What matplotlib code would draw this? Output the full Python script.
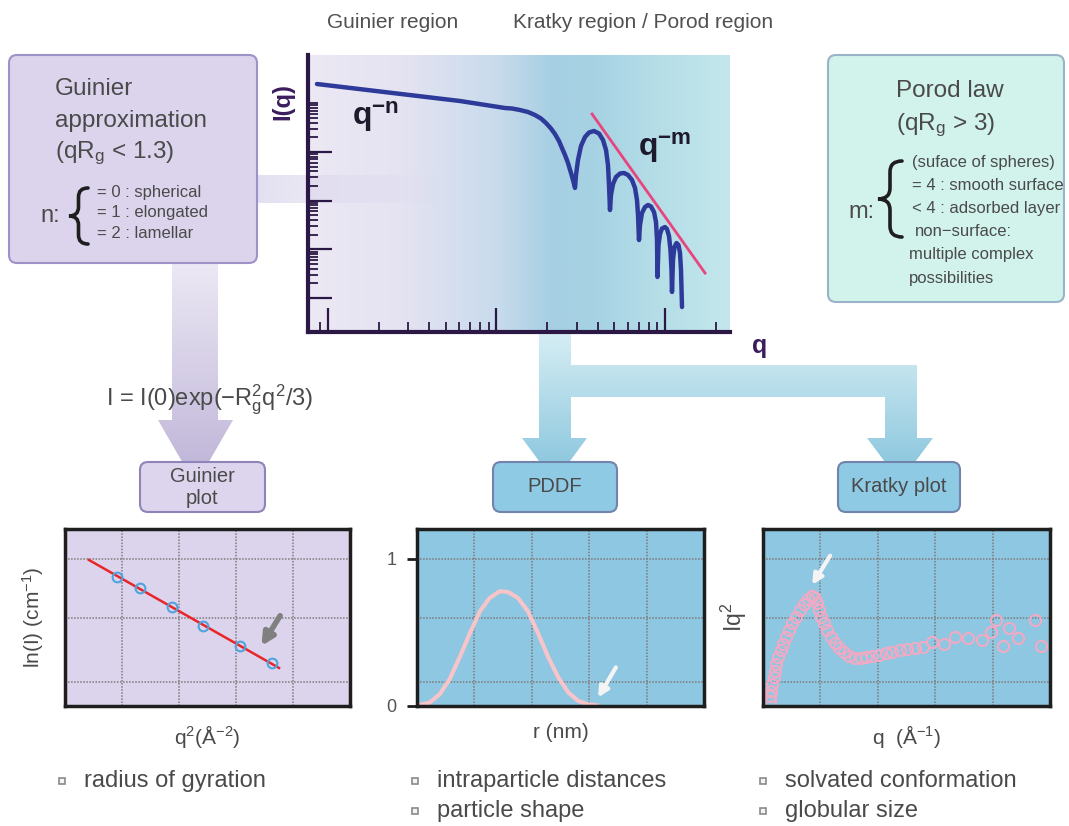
import numpy as np
import matplotlib
matplotlib.use("Agg")
import matplotlib.pyplot as plt
from matplotlib.patches import FancyBboxPatch, Polygon, PathPatch
from matplotlib.path import Path
from matplotlib.colors import LinearSegmentedColormap, to_rgb

plt.rcParams['font.family'] = ['Liberation Sans', 'DejaVu Sans']
plt.rcParams['mathtext.fontset'] = 'custom'
plt.rcParams['mathtext.rm'] = 'Liberation Sans'
plt.rcParams['mathtext.it'] = 'Liberation Sans:italic'
plt.rcParams['mathtext.bf'] = 'Liberation Sans:bold'

W, H = 1069, 826

# scattering curve I(q)
q_curve = [0.0086, 0.0607, 0.1123, 0.1236, 0.1379, 0.1538, 0.1692, 0.1837, 0.1967, 0.2106,
           0.2224, 0.2349, 0.2447, 0.2550, 0.2657, 0.2768, 0.2845, 0.2924,
           0.2964, 0.3046, 0.3173, 0.3351, 0.3540, 0.379, 0.4057, 0.4286, 0.4467, 0.4589,
           0.4653, 0.4716,
           0.4780, 0.4914, 0.5119, 0.5407, 0.5712, 0.6032, 0.6372, 0.6637, 0.6821, 0.6916,
           0.7009,
           0.7106, 0.7303, 0.7609, 0.7928, 0.8260, 0.8605, 0.8843, 0.8966, 0.9026,
           0.9151, 0.934, 0.9598, 1.0, 1.0276, 1.0561, 1.0779, 1.0928, 1.1004,
           1.1154, 1.1385, 1.17, 1.2024, 1.2275, 1.2445, 1.2617]
i_curve = [24800, 11100, 7970, 7780, 7250, 6600, 5720, 4850, 3920, 3020,
           2330, 1675, 1200, 864, 592, 369, 265, 182,
           336, 682, 1322, 2023, 2502, 2690, 2388, 1755, 1094, 538,
           209, 64,
           130, 219, 305, 360, 369, 336, 265, 182, 103, 50.6,
           15.5,
           31.5, 55.6, 73.9, 81.3, 75.7, 58.3, 36.4, 15.5, 2.7,
           12.25, 20.6, 26.7, 28.7, 26.1, 18.75, 9.68, 3.76, 1.33,
           6.03, 11.15, 13.47, 12.25, 8.40, 3.76, 0.653]
porod_q = [0.369, 1.728]
porod_i = [6000, 3.26]

# Guinier plot
guinier_x = [0.182, 0.263, 0.375, 0.484, 0.614, 0.726]
guinier_y = [0.875, 0.80, 0.671, 0.542, 0.407, 0.292]
fit_x = [0.084, 0.751]
fit_y = [0.99, 0.258]

# PDDF
pddf_r = [0.007, 0.044, 0.079, 0.114, 0.149, 0.184, 0.219, 0.253, 0.288, 0.317,
          0.352, 0.387, 0.422, 0.457, 0.492, 0.527, 0.562, 0.597, 0.626]
pddf_p = [0.007, 0.023, 0.080, 0.183, 0.332, 0.492, 0.641, 0.732, 0.778, 0.773,
          0.732, 0.641, 0.492, 0.332, 0.195, 0.092, 0.034, 0.011, 0.005]

# Kratky plot
kratky_q = [0.023, 0.026, 0.029, 0.033, 0.037, 0.042, 0.047, 0.053, 0.062, 0.070,
            0.079, 0.090, 0.101, 0.114, 0.128, 0.142, 0.156, 0.169, 0.180, 0.188,
            0.195, 0.203, 0.213, 0.223, 0.236, 0.250, 0.265, 0.281, 0.300, 0.320,
            0.340, 0.360, 0.381, 0.403, 0.427, 0.451, 0.477, 0.502, 0.529, 0.558,
            0.590, 0.630, 0.670, 0.715, 0.762, 0.793, 0.812, 0.835, 0.856, 0.890,
            0.948, 0.967]
kratky_iq2 = [0.034, 0.069, 0.103, 0.149, 0.195, 0.240, 0.286, 0.332, 0.378, 0.423,
              0.469, 0.515, 0.561, 0.606, 0.652, 0.693, 0.725, 0.744, 0.732, 0.698,
              0.652, 0.606, 0.561, 0.515, 0.469, 0.428, 0.394, 0.364, 0.341, 0.327,
              0.323, 0.330, 0.339, 0.348, 0.357, 0.366, 0.378, 0.387, 0.394, 0.400,
              0.435, 0.423, 0.469, 0.458, 0.446, 0.503, 0.584, 0.405, 0.526, 0.458,
              0.584, 0.405]

grid_x = [0.2, 0.4, 0.6, 0.8]
grid_y = [0.16, 0.6, 1.0]

# annotation arrows (tail, tip) in panel coordinates
guinier_arrow = [(0.760, 0.628), (0.684, 0.391)]
pddf_arrow = [(0.698, 0.278), (0.626, 0.041)]
kratky_arrow = [(0.239, 1.035), (0.166, 0.805)]

guinier_cases = ['= 0 : spherical', '= 1 : elongated', '= 2 : lamellar']
porod_cases = ['(suface of spheres)', '= 4 : smooth surface', '< 4 : adsorbed layer',
               'non\u2212surface:', 'multiple complex', 'possibilities']
bullets = [('radius of gyration', 62, 781), ('intraparticle distances', 415, 781),
           ('particle shape', 415, 811), ('solvated conformation', 763, 781),
           ('globular size', 763, 811)]

TXT = '#4a4a4a'
PURP = '#3b1d5e'

fig = plt.figure(figsize=(W / 100, H / 100), dpi=100)
bg = fig.add_axes([0, 0, 1, 1], zorder=0)
bg.axis('off')


def px_rect(x0, y0, x1, y1):
    return [x0 / W, 1 - y1 / H, (x1 - x0) / W, (y1 - y0) / H]


def gradient_shape(pts, c_top, c_bot, y_top, y_bot, z):
    poly = Polygon(pts, closed=True, fc='none', ec='none')
    bg.add_patch(poly)
    t = np.linspace(0, 1, 200)[:, None]
    col = np.array(to_rgb(c_top)) * (1 - t) + np.array(to_rgb(c_bot)) * t
    xs = [p[0] for p in pts]
    im = bg.imshow(col[:, None, :], extent=(min(xs), max(xs), y_bot, y_top),
                   origin='upper', aspect='auto', zorder=z)
    im.set_clip_path(poly)


def box(x0, y0, x1, y1, fc, ec):
    bg.add_patch(FancyBboxPatch((x0, y0), x1 - x0, y1 - y0,
                                boxstyle='round,pad=0,rounding_size=8',
                                fc=fc, ec=ec, lw=1.5, zorder=5))


def brace(x_tip, x_end, y0, y1, r):
    xs = (x_tip + x_end) / 2
    ym = (y0 + y1) / 2
    verts = [(x_end, y0), (xs, y0), (xs, y0 + r),
             (xs, ym - r), (xs, ym), (x_tip, ym),
             (xs, ym), (xs, ym + r),
             (xs, y1 - r), (xs, y1), (x_end, y1)]
    codes = [Path.MOVETO, Path.CURVE3, Path.CURVE3,
             Path.LINETO, Path.CURVE3, Path.CURVE3,
             Path.CURVE3, Path.CURVE3,
             Path.LINETO, Path.CURVE3, Path.CURVE3]
    bg.add_patch(PathPatch(Path(verts, codes), fc='none', ec='#1e1e1e', lw=2.6,
                           capstyle='round', zorder=6))


# main plot background gradient
cmap = LinearSegmentedColormap.from_list('bgq', [(0, '#ece8f4'), (0.22, '#e5e3f2'),
                                                  (0.45, '#c8dbec'), (0.58, '#a6cfe3'),
                                                  (0.68, '#a6d2e3'), (0.82, '#b4dde7'),
                                                  (1, '#c3e7ec')])
bg.imshow(np.linspace(0, 1, 300)[None, :], cmap=cmap, extent=(308, 730, 332, 55),
          origin='upper', aspect='auto', zorder=1)

# faint band from the Guinier box into the plot
band = np.zeros((1, 200, 4))
band[..., :3] = to_rgb('#d9d5ec')
band[0, :, 3] = np.linspace(0.75, 0.0, 200)
bg.imshow(band, extent=(257, 440, 203, 175), origin='upper', aspect='auto', zorder=2)

# arrows
gradient_shape([(172, 263), (218, 263), (218, 420), (233, 420), (195.5, 485),
                (158, 420), (172, 420)], '#ece8f4', '#bdb3d7', 263, 485, 1.5)
gradient_shape([(539, 332), (571, 332), (571, 365), (917, 365), (917, 438), (933, 438),
                (900, 482), (867, 438), (885, 438), (885, 397), (571, 397), (571, 438),
                (587, 438), (554.5, 482), (522, 438), (539, 438)],
               '#d6eef4', '#85c3dc', 332, 482, 1.5)

# boxes
box(9, 55, 257, 263, '#dcd4ec', '#9d93c6')
box(828, 55, 1064, 302, '#d2f3ec', '#9bb3c9')
box(140, 462, 265, 512, '#ddd5ee', '#8f84b8')
box(493, 462, 617, 512, '#8ecae3', '#7284ae')
box(838, 462, 960, 512, '#8ecae3', '#7284ae')

bg.text(55, 95, 'Guinier', fontsize=17.5, color=TXT, zorder=6)
bg.text(55, 127, 'approximation', fontsize=17.5, color=TXT, zorder=6)
bg.text(55, 158, '(qR$_\\mathregular{g}$ < 1.3)', fontsize=17.5, color=TXT, zorder=6)
bg.text(50, 216, 'n:', fontsize=17, color=TXT, ha='center', va='center', zorder=6)
brace(69, 88, 188, 244, 9)
for k, s in enumerate(guinier_cases):
    bg.text(97, 192 + 21 * k, s, fontsize=12, color=TXT, va='center', zorder=6)

bg.text(896, 97, 'Porod law', fontsize=17.5, color=TXT, zorder=6)
bg.text(896, 130, '(qR$_\\mathregular{g}$ > 3)', fontsize=17.5, color=TXT, zorder=6)
bg.text(861, 212, 'm:', fontsize=17, color=TXT, ha='center', va='center', zorder=6)
brace(878, 902, 161, 237, 11)
for k, s in enumerate(porod_cases):
    x = 912 if k < 3 else (915 if k == 3 else 909)
    bg.text(x, 163 + 23 * k, s, fontsize=12, color=TXT, va='center', zorder=6)

bg.text(202, 487, 'Guinier\nplot', fontsize=14.5, color=TXT, ha='center', va='center',
        linespacing=1.2, zorder=6)
bg.text(555, 487, 'PDDF', fontsize=14.5, color=TXT, ha='center', va='center', zorder=6)
bg.text(899, 487, 'Kratky plot', fontsize=14.5, color=TXT, ha='center', va='center', zorder=6)

bg.text(393, 22, 'Guinier region', fontsize=15, color='#505050', ha='center', va='center')
bg.text(643, 22, 'Kratky region / Porod region', fontsize=15, color='#505050',
        ha='center', va='center')
bg.text(210, 400, 'I = I(0)exp(\u2212R$_\\mathregular{g}^\\mathregular{2}$q$^\\mathregular{2}$/3)',
        fontsize=17, color=TXT, ha='center', va='center', zorder=6)

bg.text(352, 125, 'q$^{\\mathregular{\u2212n}}$', fontsize=23, fontweight='bold',
        color='#1e1a2e', zorder=6)
bg.text(638, 156, 'q$^{\\mathregular{\u2212m}}$', fontsize=23, fontweight='bold',
        color='#1e1a2e', zorder=6)
bg.text(283, 102, 'I(q)', fontsize=17, fontweight='bold', color=PURP, rotation=90,
        ha='center', va='center')
bg.text(760, 346, 'q', fontsize=18, fontweight='bold', color=PURP, ha='center', va='center')

for s, x, y in bullets:
    bg.plot([x], [y], marker='s', ms=5, mfc='#f4f4f4', mec='#8a8a8a', mew=1.2)
    bg.text(x + 22, y, s, fontsize=17, color=TXT, va='center')

bg.set_xlim(0, W)
bg.set_ylim(H, 0)

# main log-log plot
ax = fig.add_axes(px_rect(308, 55, 730, 332), zorder=2)
ax.patch.set_visible(False)
ax.set_xscale('log')
ax.set_yscale('log')
ax.plot(q_curve, i_curve, color='#2e3a9a', lw=3.2, solid_joinstyle='round',
        solid_capstyle='round')
ax.plot(porod_q, porod_i, color='#e8457f', lw=2)
ax.set_xlim(0.00761, 2.431)
ax.set_ylim(0.2004, 97700)
ax.set_xticks([0.01, 0.1, 1])
ax.set_xticks([0.009] + [k * 0.01 for k in range(2, 10)] + [k * 0.1 for k in range(2, 10)] + [2],
              minor=True)
ax.set_yticks([1, 10, 100, 1000])
ax.set_yticks([k * 10.0 ** e for e in range(4) for k in range(2, 10)] + [1e4], minor=True)
ax.tick_params(which='major', direction='in', length=17, width=1.6, color='#2b1845',
               labelleft=False, labelbottom=False)
ax.tick_params(which='minor', direction='in', length=7, width=1.3, color='#2b1845',
               labelleft=False, labelbottom=False)
for sp in ['top', 'right']:
    ax.spines[sp].set_visible(False)
for sp in ['left', 'bottom']:
    ax.spines[sp].set_color('#2b1845')
    ax.spines[sp].set_linewidth(3)


def panel(x0, x1, face):
    a = fig.add_axes(px_rect(x0, 529, x1, 706), zorder=2)
    a.set_facecolor(face)
    a.set_xlim(0, 1)
    a.set_ylim(0, 1.2)
    a.set_xticks([])
    a.set_yticks([])
    for g in grid_x:
        a.axvline(g, color='#7f7a7a', lw=1.1, ls=(0, (1, 1)), zorder=0.5)
    for g in grid_y:
        a.axhline(g, color='#7f7a7a', lw=1.1, ls=(0, (1, 1)), zorder=0.5)
    for sp in a.spines.values():
        sp.set_color('#1e1e1e')
        sp.set_linewidth(2.5)
    return a


ag = panel(65, 350, '#dcd4ec')
ag.plot(fit_x, fit_y, color='#e8262a', lw=1.8, zorder=2)
ag.plot(guinier_x, guinier_y, 'o', mfc='none', mec='#4ea4dd', ms=7, mew=1.5, zorder=3)
ag.annotate('', xy=guinier_arrow[1], xytext=guinier_arrow[0],
            arrowprops=dict(arrowstyle='-|>', color='#808080', lw=4, mutation_scale=18))
ag.set_ylabel('ln(I) (cm$^{\\mathregular{\u22121}}$)', fontsize=15, color=TXT, labelpad=14)
ag.set_xlabel('q$^{\\mathregular{2}}$(Å$^{\\mathregular{\u22122}}$)', fontsize=15, color=TXT,
              labelpad=12)

ap = panel(417, 704, '#8ec7e1')
ap.plot(pddf_r, pddf_p, color='#f7c4c9', lw=3, zorder=2)
ap.annotate('', xy=pddf_arrow[1], xytext=pddf_arrow[0],
            arrowprops=dict(arrowstyle='-|>', color='#f4f4f4', lw=3, mutation_scale=15))
ap.set_yticks([0, 1])
ap.set_yticklabels(['0', '1'])
ap.tick_params(axis='y', direction='out', length=7, width=2, color='#1e1e1e',
               labelsize=13, labelcolor='#555555', pad=8)
ap.set_xlabel('r (nm)', fontsize=15, color=TXT, labelpad=12)

ak = panel(763, 1050, '#8ec7e1')
ak.plot(kratky_q, kratky_iq2, 'o', mfc='none', mec='#f1aac4', ms=8, mew=1.5, zorder=2)
ak.annotate('', xy=kratky_arrow[1], xytext=kratky_arrow[0],
            arrowprops=dict(arrowstyle='-|>', color='#f4f4f4', lw=3, mutation_scale=15))
ak.set_ylabel('Iq$^{\\mathregular{2}}$', fontsize=16.5, color=TXT, labelpad=10)
ak.set_xlabel('q  (Å$^{\\mathregular{\u22121}}$)', fontsize=15, color=TXT, labelpad=12)

fig.savefig('out.png', dpi=100)
